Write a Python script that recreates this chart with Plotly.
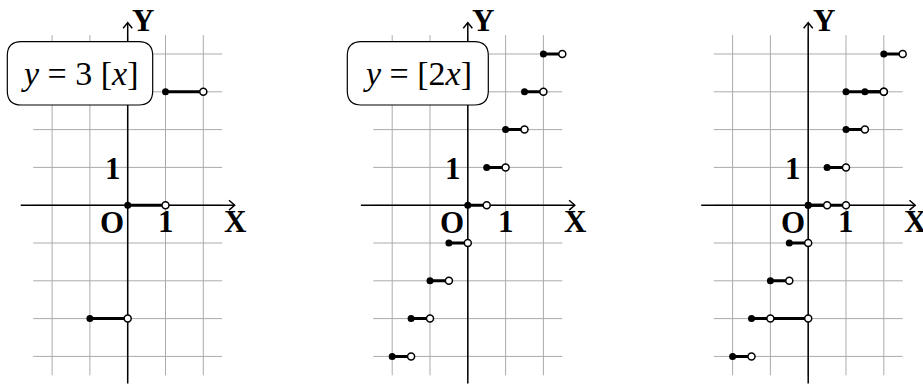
import plotly.graph_objects as go

# ---- data -------------------------------------------------------------
# y = 3[x]  : step pieces [start, end) with constant value
f1_start = [-1, 0, 1]
f1_end = [0, 1, 2]
f1_value = [-3, 0, 3]

# y = [2x]  : step pieces [start, end) with constant value
f2_start = [-2, -1.5, -1, -0.5, 0, 0.5, 1, 1.5, 2]
f2_end = [-1.5, -1, -0.5, 0, 0.5, 1, 1.5, 2, 2.5]
f2_value = [-4, -3, -2, -1, 0, 1, 2, 3, 4]

grid_x = [-2, -1, 0, 1, 2]
grid_y = [-4, -3, -2, -1, 0, 1, 2, 3, 4]
grid_x_extent = [-2.5, 2.5]
grid_y_extent = [-4.5, 4.5]
axis_x_extent = [-2.83, 2.83]
axis_y_extent = [-4.72, 4.83]

box_titles = ["<i>y</i> = 3 [<i>x</i>]", "<i>y</i> = [2<i>x</i>]", None]

# ---- layout geometry (pixels) -----------------------------------------
W, H = 923, 385
UNIT = 37.8
origins_x = [127.7, 467.8, 808.2]
origin_y = 205.2
XR = [-3.0, 3.0]
YR = [-4.75, 5.0]

fig = go.Figure()
layout_axes = {}
GRID_COL = "#ababab"


def px_to_paper(px, py):
    return px / W, 1 - py / H


for i, ox in enumerate(origins_x):
    n = "" if i == 0 else str(i + 1)
    xa, ya = "x" + n, "y" + n
    x0 = (ox + XR[0] * UNIT) / W
    x1 = (ox + XR[1] * UNIT) / W
    y0 = 1 - (origin_y - YR[0] * UNIT) / H
    y1 = 1 - (origin_y - YR[1] * UNIT) / H
    common = dict(visible=False, showgrid=False, zeroline=False, fixedrange=True)
    layout_axes["xaxis" + n] = dict(domain=[x0, x1], range=XR, anchor=ya, **common)
    layout_axes["yaxis" + n] = dict(domain=[max(0, y0), y1], range=YR, anchor=xa, **common)

    # grid
    gx, gy = [], []
    for v in grid_x:
        gx += [v, v, None]
        gy += [grid_y_extent[0], grid_y_extent[1], None]
    for v in grid_y:
        gx += [grid_x_extent[0], grid_x_extent[1], None]
        gy += [v, v, None]
    fig.add_trace(go.Scatter(x=gx, y=gy, mode="lines", xaxis=xa, yaxis=ya,
                             line=dict(color=GRID_COL, width=1), hoverinfo="skip",
                             showlegend=False))

    # coordinate axes with small open arrow tips
    ax_x = [axis_x_extent[0], axis_x_extent[1], None, 0, 0]
    ax_y = [0, 0, None, axis_y_extent[0], axis_y_extent[1]]
    tx, ty = axis_x_extent[1], axis_y_extent[1]
    ax_x += [None, tx - 0.15, tx, tx - 0.15, None, -0.12, 0, 0.12]
    ax_y += [None, 0.13, 0, -0.13, None, ty - 0.15, ty, ty - 0.15]
    fig.add_trace(go.Scatter(x=ax_x, y=ax_y, mode="lines", xaxis=xa, yaxis=ya,
                             line=dict(color="black", width=1.5), hoverinfo="skip",
                             showlegend=False))

    # which step functions go in this panel
    if i == 0:
        sets = [(f1_start, f1_end, f1_value)]
    elif i == 1:
        sets = [(f2_start, f2_end, f2_value)]
    else:
        sets = [(f1_start, f1_end, f1_value), (f2_start, f2_end, f2_value)]

    for starts, ends, vals in sets:
        lx, ly = [], []
        for a, b, v in zip(starts, ends, vals):
            lx += [a, b, None]
            ly += [v, v, None]
        fig.add_trace(go.Scatter(x=lx, y=ly, mode="lines", xaxis=xa, yaxis=ya,
                                 line=dict(color="black", width=3), hoverinfo="skip",
                                 showlegend=False))
        fig.add_trace(go.Scatter(x=starts, y=vals, mode="markers", xaxis=xa, yaxis=ya,
                                 marker=dict(color="black", size=7, line=dict(width=0)),
                                 hoverinfo="skip", showlegend=False, cliponaxis=False))
        fig.add_trace(go.Scatter(x=ends, y=vals, mode="markers", xaxis=xa, yaxis=ya,
                                 marker=dict(color="white", size=7,
                                             line=dict(color="black", width=1.5)),
                                 hoverinfo="skip", showlegend=False, cliponaxis=False))

    # axis labels
    lab = dict(xref=xa, yref=ya, showarrow=False, xanchor="center", yanchor="middle",
               font=dict(family="Liberation Serif", size=31, color="black"))
    fig.add_annotation(x=2.84, y=-0.42, text="<b>X</b>", **lab)
    fig.add_annotation(x=0.41, y=4.88, text="<b>Y</b>", **lab)
    fig.add_annotation(x=-0.41, y=-0.47, text="<b>O</b>", **lab)
    fig.add_annotation(x=1.0, y=-0.42, text="<b>1</b>", **lab)
    fig.add_annotation(x=-0.39, y=0.97, text="<b>1</b>", **lab)

# ---- formula boxes ----------------------------------------------------
boxes_px = [(7.3, 41.7, 152.7, 105.0), (347.3, 41.7, 488.3, 105.0)]
shapes = []


def P(px, py):
    X, Y = px_to_paper(px, py)
    return f"{X:.5f},{Y:.5f}"


for (bx0, by0, bx1, by1), title in zip(boxes_px, box_titles):
    r = 14
    path = (f"M{P(bx0 + r, by0)} L{P(bx1 - r, by0)} Q{P(bx1, by0)} {P(bx1, by0 + r)} "
            f"L{P(bx1, by1 - r)} Q{P(bx1, by1)} {P(bx1 - r, by1)} "
            f"L{P(bx0 + r, by1)} Q{P(bx0, by1)} {P(bx0, by1 - r)} "
            f"L{P(bx0, by0 + r)} Q{P(bx0, by0)} {P(bx0 + r, by0)} Z")
    shapes.append(dict(type="path", path=path, xref="paper", yref="paper",
                       fillcolor="white", line=dict(color="black", width=1.2),
                       layer="above"))
    cx, cy = px_to_paper((bx0 + bx1) / 2, (by0 + by1) / 2)
    fig.add_annotation(x=cx, y=cy, xref="paper", yref="paper", text=title,
                       showarrow=False, xanchor="center", yanchor="middle",
                       font=dict(family="Liberation Serif", size=34, color="black"))

fig.update_layout(
    width=W, height=H,
    margin=dict(l=0, r=0, t=0, b=0),
    paper_bgcolor="white", plot_bgcolor="white",
    shapes=shapes,
    showlegend=False,
    **layout_axes,
)

fig.write_html("out.html", config={"displayModeBar": False})
